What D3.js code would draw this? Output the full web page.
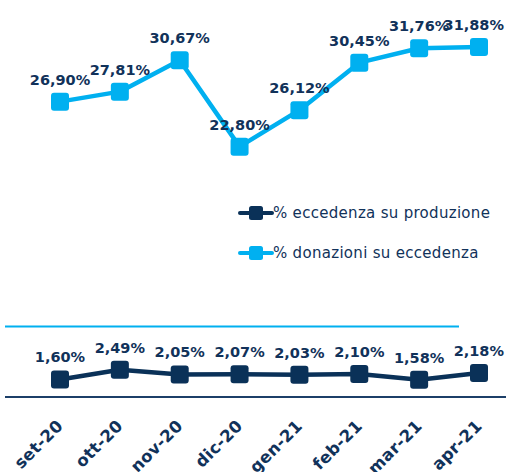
<!DOCTYPE html>
<html>
<head>
<meta charset="utf-8">
<script src="https://cdn.jsdelivr.net/npm/d3@7/dist/d3.min.js"></script>
<style>
  body { margin: 0; background: #fff; }
  text { font-family: "DejaVu Sans", sans-serif; fill: #11325a; }
</style>
</head>
<body>
<script>
// months on the x axis
const months = ["set-20", "ott-20", "nov-20", "dic-20", "gen-21", "feb-21", "mar-21", "apr-21"];
// % donazioni su eccedenza
const donazioni = [26.90, 27.81, 30.67, 22.80, 26.12, 30.45, 31.76, 31.88];
// % eccedenza su produzione
const eccedenza = [1.60, 2.49, 2.05, 2.07, 2.03, 2.10, 1.58, 2.18];

const seriesNames = ["% eccedenza su produzione", "% donazioni su eccedenza"];

const w = 506, h = 472;
const lightBlue = "#00b0f0";
const navy = "#0a3158";

const svg = d3.select("body").append("svg")
  .attr("width", w)
  .attr("height", h);

const x = d3.scalePoint()
  .domain(months)
  .range([60, 479]);

const y = d3.scaleLinear()
  .domain([0, 35])
  .range([397, 12.7]);

const fmt = v => d3.format(".2f")(v).replace(".", ",") + "%";

// thin light blue rule above the lower series
svg.append("line")
  .attr("x1", 5).attr("x2", 459)
  .attr("y1", 326.5).attr("y2", 326.5)
  .attr("stroke", lightBlue)
  .attr("stroke-width", 2);

// x axis
const xAxis = svg.append("g")
  .attr("transform", "translate(0," + y(0) + ")");
xAxis.append("line")
  .attr("x1", 5).attr("x2", w)
  .attr("stroke", "#1c3f68")
  .attr("stroke-width", 2);
xAxis.selectAll("text")
  .data(months)
  .enter()
  .append("text")
  .attr("transform", d => "translate(" + (x(d) + 4) + ",30) rotate(-45)")
  .attr("text-anchor", "end")
  .style("font-size", "16.5px")
  .style("font-weight", "bold")
  .style("letter-spacing", "0.3px")
  .text(d => d);

function drawSeries(values, color) {
  const line = d3.line()
    .x((d, i) => x(months[i]))
    .y(d => y(d));

  svg.append("path")
    .datum(values)
    .attr("d", line)
    .attr("fill", "none")
    .attr("stroke", color)
    .attr("stroke-width", 4.5)
    .attr("stroke-linejoin", "round");

  svg.append("g").selectAll("rect")
    .data(values)
    .enter()
    .append("rect")
    .attr("x", (d, i) => x(months[i]) - 9)
    .attr("y", d => y(d) - 9)
    .attr("width", 18)
    .attr("height", 18)
    .attr("rx", 3)
    .attr("fill", color);

  svg.append("g").selectAll("text")
    .data(values)
    .enter()
    .append("text")
    .attr("x", (d, i) => x(months[i]))
    .attr("y", d => y(d) - 17)
    .attr("text-anchor", "middle")
    .style("font-size", "14.5px")
    .style("font-weight", "bold")
    .text(d => fmt(d))
    // keep the last label inside the picture
    .each(function () {
      const half = this.getComputedTextLength() / 2;
      const cx = +this.getAttribute("x");
      if (cx + half > w - 2) this.setAttribute("x", w - 2 - half);
    });
}

drawSeries(donazioni, lightBlue);
drawSeries(eccedenza, navy);

// legend
const legend = svg.append("g")
  .attr("transform", "translate(240,213)");
const legendColors = [navy, lightBlue];
seriesNames.forEach((name, i) => {
  const g = legend.append("g").attr("transform", "translate(0," + (i * 40) + ")");
  g.append("line")
    .attr("x1", 0).attr("x2", 32)
    .attr("stroke", legendColors[i])
    .attr("stroke-width", 4)
    .attr("stroke-linecap", "round");
  g.append("rect")
    .attr("x", 9).attr("y", -7)
    .attr("width", 14).attr("height", 14)
    .attr("rx", 2.5)
    .attr("fill", legendColors[i]);
  g.append("text")
    .attr("x", 33)
    .attr("y", 5)
    .style("font-size", "15px")
    .style("letter-spacing", "0.3px")
    .text(name);
});
</script>
</body>
</html>
